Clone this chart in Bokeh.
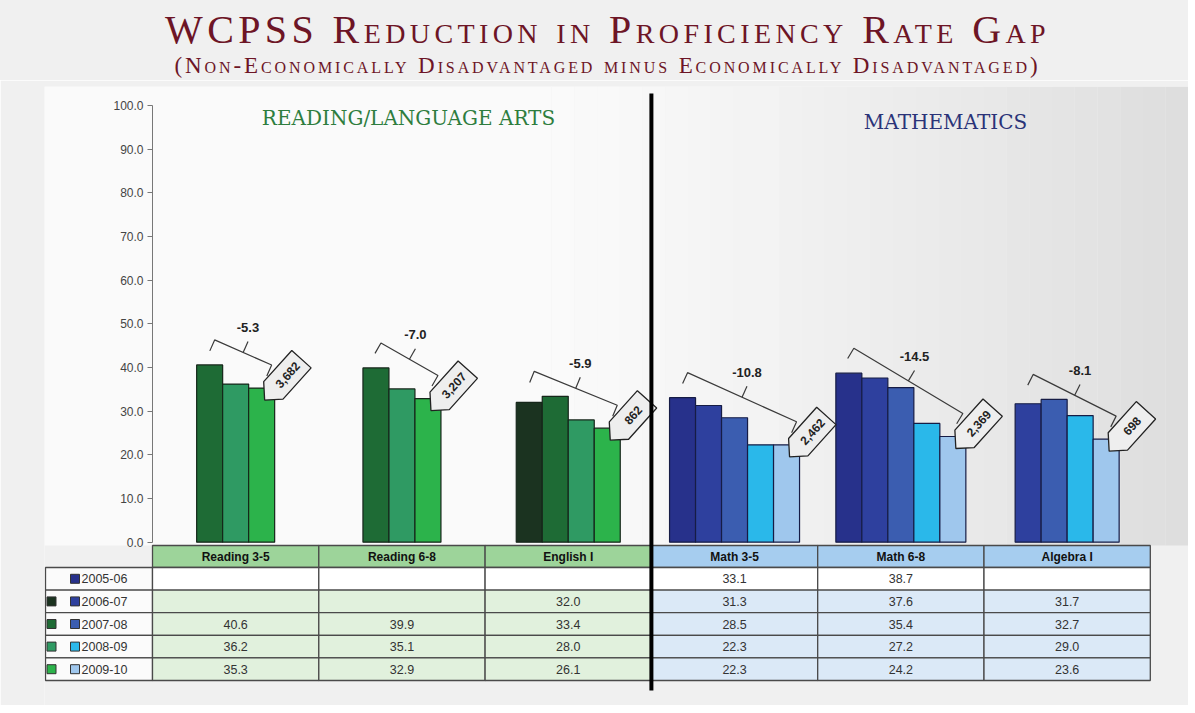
import math
import numpy as np
from bokeh.plotting import figure
from bokeh.models import Range1d, NumeralTickFormatter, FixedTicker, Div
from bokeh.layouts import column
from bokeh.core.properties import value
from bokeh.embed import file_html
from bokeh.resources import INLINE

# ---------------- data ----------------
categories = ["Reading 3-5", "Reading 6-8", "English I", "Math 3-5", "Math 6-8", "Algebra I"]
years = ["2005-06", "2006-07", "2007-08", "2008-09", "2009-10"]
y2005_06 = [None, None, None, 33.1, 38.7, None]
y2006_07 = [None, None, 32.0, 31.3, 37.6, 31.7]
y2007_08 = [40.6, 39.9, 33.4, 28.5, 35.4, 32.7]
y2008_09 = [36.2, 35.1, 28.0, 22.3, 27.2, 29.0]
y2009_10 = [35.3, 32.9, 26.1, 22.3, 24.2, 23.6]
students = ["3,682", "3,207", "862", "2,462", "2,369", "698"]
subject = ["reading", "reading", "reading", "math", "math", "math"]
y_ticks = [0, 10, 20, 30, 40, 50, 60, 70, 80, 90, 100]

series = [y2005_06, y2006_07, y2007_08, y2008_09, y2009_10]
green_colors = [None, "#1b3320", "#1e6b35", "#2f9a63", "#2cb34b"]
blue_colors = ["#27318b", "#2e409e", "#3b5db0", "#2ab8ea", "#9fc7ed"]

# ---------------- geometry (pixel based styling) ----------------
SX = 166.3          # px per category unit
SY = 4.367          # px per percentage point
BW = 26 / SX        # bar width in category units
FIG_W = 1188
LEFT_BORDER = 44
AXIS_PAGE_X = 152
ZERO_PAGE_Y = 541.7
X0 = (LEFT_BORDER - AXIS_PAGE_X) / SX
XMAX = (FIG_W - AXIS_PAGE_X) / SX


def Y(page_y):
    return (ZERO_PAGE_Y - page_y) / SY


def X(page_x):
    return (page_x - AXIS_PAGE_X) / SX


FIG_TOP = 80
FIG_H = 625
YMAX = Y(86)
YMIN = Y(FIG_TOP + FIG_H)

BG = "#f0f0f0"
FONT = value("Liberation Sans")
SERIF = value("DejaVu Serif")

# ---------------- title ----------------
title = Div(
    text=(
        f"<div style=\"width:{FIG_W}px;height:{FIG_TOP}px;font-family:'Liberation Serif',serif;font-variant:small-caps;"
        "color:#6d1526;text-align:center;\">"
        "<div style=\"font-size:40px;line-height:40px;letter-spacing:4.4px;padding-top:10px;padding-left:27px;\">WCPSS Reduction in Proficiency Rate Gap</div>"
        "<div style=\"font-size:23px;line-height:22px;letter-spacing:2.9px;padding-top:5px;padding-left:27px;\">(Non-Economically Disadvantaged minus Economically Disadvantaged)</div>"
        "</div>"
    ),
    width=FIG_W, height=FIG_TOP, margin=0,
    styles={"background-color": BG},
)

# ---------------- figure ----------------
p = figure(width=FIG_W, height=FIG_H, x_range=Range1d(X0, XMAX), y_range=Range1d(YMIN, YMAX),
           output_backend="svg", toolbar_location=None, x_axis_location=None,
           min_border_left=LEFT_BORDER, min_border_right=0, min_border_top=86 - FIG_TOP,
           min_border_bottom=0, margin=0)
p.grid.visible = False
p.outline_line_color = None
p.background_fill_color = BG
p.border_fill_color = BG

p.yaxis.fixed_location = 0
p.yaxis.ticker = FixedTicker(ticks=y_ticks)
p.yaxis.formatter = NumeralTickFormatter(format="0.0")
p.yaxis.bounds = (0, 100)
p.yaxis.axis_line_color = "#777777"
p.yaxis.major_tick_line_color = "#777777"
p.yaxis.minor_tick_line_color = None
p.yaxis.major_tick_out = 5
p.yaxis.major_tick_in = 0
p.yaxis.major_label_standoff = 4
p.yaxis.major_label_text_font = "Liberation Sans"
p.yaxis.major_label_text_font_size = "12px"
p.yaxis.major_label_text_color = "#444444"

# soft background shading: white-ish on the left, greyer to the right
NB = 28
edges = np.linspace(2.4, XMAX, NB + 1)
shade = []
for i in range(NB):
    g = int(round(250 - (250 - 222) * (i / (NB - 1)) ** 1.2))
    shade.append(f"#{g:02x}{g:02x}{g:02x}")
p.quad(left=[X0] + list(edges[:-1]), right=[2.4] + list(edges[1:]), top=YMAX, bottom=Y(545),
       fill_color=["#fafafa"] + shade, line_color=None, level="underlay")

bx, btop, bcol, bline = [], [], [], []
for c in range(len(categories)):
    idx = [k for k in range(len(series)) if series[k][c] is not None]
    n = len(idx)
    for j, k in enumerate(idx):
        bx.append(c + 0.5 + (j - (n - 1) / 2) * BW)
        btop.append(series[k][c])
        if subject[c] == "reading":
            bcol.append(green_colors[k]); bline.append("#16261a")
        else:
            bcol.append(blue_colors[k]); bline.append("#161c45")
p.vbar(x=bx, top=btop, bottom=0, width=BW, fill_color=bcol, line_color=bline, line_width=1.2)

# brackets, gap labels and student-count tags
br_xs, br_ys, tk_xs, tk_ys = [], [], [], []
gx, gy, gtxt = [], [], []
tag_xs, tag_ys, tx, ty = [], [], [], []
ang = math.radians(48)
u = np.array([math.cos(ang), math.sin(ang)])
v = np.array([-math.sin(ang), math.cos(ang)])
for c in range(len(categories)):
    idx = [k for k in range(len(series)) if series[k][c] is not None]
    n = len(idx)
    vals = [series[k][c] for k in idx]
    xs = [c + 0.5 + (j - (n - 1) / 2) * BW for j in range(n)]
    L = np.array([xs[0] * SX + 5, max(vals) * SY + 25])
    R = np.array([(xs[-1] + BW / 2) * SX - 3, vals[-1] * SY + 23])
    d = (R - L) / np.linalg.norm(R - L)
    nrm = np.array([-d[1], d[0]])
    pts = [L - 12 * nrm, L, R, R - 12 * nrm]
    br_xs.append([q[0] / SX for q in pts]); br_ys.append([q[1] / SY for q in pts])
    mid = (L + R) / 2
    tip = mid + 12 * nrm
    tk_xs.append([mid[0] / SX, tip[0] / SX]); tk_ys.append([mid[1] / SY, tip[1] / SY])
    lab = tip + np.array([0, 14])
    gx.append(lab[0] / SX); gy.append(lab[1] / SY)
    gtxt.append(f"{vals[-1] - vals[0]:.1f}")
    A = np.array([(xs[-1] + BW / 2) * SX - 10, vals[-1] * SY - 12])
    poly = [A, A + 13 * u + 13 * v, A + 55 * u + 13 * v, A + 55 * u - 13 * v, A + 13 * u - 13 * v]
    tag_xs.append([q[0] / SX for q in poly]); tag_ys.append([q[1] / SY for q in poly])
    tc = A + 34 * u
    tx.append(tc[0] / SX); ty.append(tc[1] / SY)

p.multi_line(xs=br_xs, ys=br_ys, line_color="#3a3a3a", line_width=1.2)
p.multi_line(xs=tk_xs, ys=tk_ys, line_color="#3a3a3a", line_width=1.2)
p.text(x=gx, y=gy, text=gtxt, text_font=FONT, text_font_style="bold", text_font_size="13px",
       text_color="#222222", text_align="center", text_baseline="middle")
p.patches(xs=tag_xs, ys=tag_ys, fill_color="#eeeeee", line_color="#222222", line_width=1.3)
p.text(x=tx, y=ty, text=students, angle=ang, text_font=FONT, text_font_style="bold",
       text_font_size="12px", text_color="#222222", text_align="center", text_baseline="middle")

# section headings
p.text(x=[X(408)], y=[Y(117)], text=["READING/LANGUAGE ARTS"],
       text_font=SERIF, text_font_size="20px", text_color="#2e7d3e",
       text_align="center", text_baseline="middle")
p.text(x=[X(945)], y=[Y(121)], text=["MATHEMATICS"],
       text_font=SERIF, text_font_size="20px", text_color="#2a3378",
       text_align="center", text_baseline="middle")

# ---------------- table ----------------
H_TOP, H_BOT = Y(545), Y(567)
p.quad(left=[c for c in range(6)], right=[c + 1 for c in range(6)], top=H_TOP, bottom=H_BOT,
       fill_color=["#9dd49a"] * 3 + ["#a6cdef"] * 3, line_color="#4a4a4a", line_width=1.3)
p.text(x=[c + 0.5 for c in range(6)], y=[(H_TOP + H_BOT) / 2] * 6, text=categories,
       text_font=FONT, text_font_style="bold", text_font_size="12px", text_color="#111111",
       text_align="center", text_baseline="middle")

RH = 22.6
ql, qr, qt, qb, qc = [], [], [], [], []
txt_x, txt_y, txt = [], [], []
for r in range(len(years)):
    top_ = Y(567 + r * RH)
    bot_ = Y(567 + (r + 1) * RH)
    ql.append(X(45)); qr.append(0); qt.append(top_); qb.append(bot_); qc.append("#fbfbfb")
    for c in range(6):
        ql.append(c); qr.append(c + 1); qt.append(top_); qb.append(bot_)
        if r == 0:
            qc.append("#ffffff")
        else:
            qc.append("#e1f1dd" if subject[c] == "reading" else "#dbe9f7")
        val = series[r][c]
        if val is not None:
            txt_x.append(c + 0.5); txt_y.append((top_ + bot_) / 2); txt.append(f"{val:.1f}")
p.quad(left=ql, right=qr, top=qt, bottom=qb, fill_color=qc, line_color="#4a4a4a", line_width=1.3)
p.text(x=txt_x, y=txt_y, text=txt, text_font=FONT, text_font_size="12.5px", text_color="#333333",
       text_align="center", text_baseline="middle")

# legend column
lg_x, lg_y, lg_c = [], [], []
for r in range(len(years)):
    cy = Y(567 + r * RH + RH / 2)
    if green_colors[r] is not None:
        lg_x.append(X(51)); lg_y.append(cy); lg_c.append(green_colors[r])
    lg_x.append(X(74.5)); lg_y.append(cy); lg_c.append(blue_colors[r])
p.rect(x=lg_x, y=lg_y, width=9, height=9, width_units="screen", height_units="screen",
       fill_color=lg_c, line_color="#333333", line_width=1)
p.text(x=[X(81)] * len(years), y=[Y(567 + r * RH + RH / 2) for r in range(len(years))], text=years,
       text_font=FONT, text_font_size="12.5px", text_color="#333333",
       text_align="left", text_baseline="middle")

# divider
p.segment(x0=[3], y0=[Y(690)], x1=[3], y1=[Y(93)], line_color="#000000", line_width=4)

layout = column(title, p, spacing=0)
open("out.html", "w").write(file_html(layout, INLINE))
